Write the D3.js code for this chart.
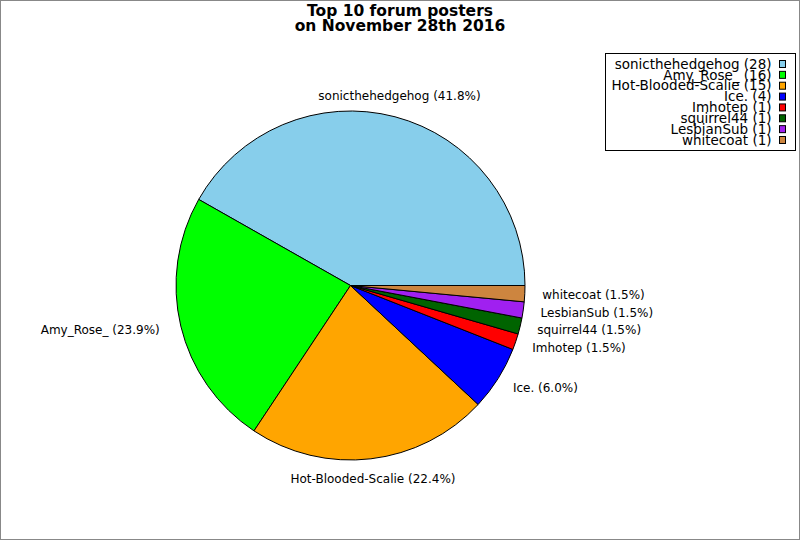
<!DOCTYPE html>
<html>
<head>
<meta charset="utf-8">
<script src="https://cdn.jsdelivr.net/npm/d3@7"></script>
<style>
  body { margin: 0; background: #fff; }
  svg { display: block; font-family: "DejaVu Sans", sans-serif; }
</style>
</head>
<body>
<div id="chart"></div>
<script>

// Chart data
const posters = ["sonicthehedgehog", "Amy_Rose_", "Hot-Blooded-Scalie", "Ice.", "Imhotep", "squirrel44", "LesbianSub", "whitecoat"];
const posts = [28, 16, 15, 4, 1, 1, 1, 1];
const sliceColors = ["#87ceeb", "#00ff00", "#ffa500", "#0000ff", "#ff0000", "#006400", "#a020f0", "#cd853f"];
const titleLines = ["Top 10 forum posters", "on November 28th 2016"];

const svgWidth = 800;
const svgHeight = 540;

const centre = { x: 350.5, y: 285.5 };
const radius = 174.5;
const labelRadius = 192;

const svg = d3.select("#chart").append("svg")
    .attr("width", svgWidth)
    .attr("height", svgHeight);

// grey frame round the picture
svg.append("rect")
    .attr("x", 0.5).attr("y", 0.5)
    .attr("width", svgWidth - 1).attr("height", svgHeight - 1)
    .attr("fill", "#fff")
    .attr("stroke", "#888");

// TITLE
svg.append("text")
    .attr("x", 400)
    .attr("text-anchor", "middle")
    .attr("font-weight", "bold")
    .attr("font-size", "15.5px")
    .selectAll("tspan")
    .data(titleLines)
    .join("tspan")
        .attr("x", 400)
        .attr("y", (d, i) => 16 + i * 14.5)
        .text(d => d);

const total = d3.sum(posts);
const table = posters.map((name, i) => ({ name: name, value: posts[i], color: sliceColors[i] }));

// counter-clockwise, starting at 3 o'clock
const pie = d3.pie()
    .sort(null)
    .value(d => d.value)
    .startAngle(Math.PI / 2)
    .endAngle(Math.PI / 2 - 2 * Math.PI);

const arc = d3.arc()
    .innerRadius(0)
    .outerRadius(radius);

const arcs = pie(table);

const gPie = svg.append("g")
    .attr("transform", `translate(${centre.x},${centre.y})`);

gPie.selectAll("path")
    .data(arcs)
    .join("path")
        .attr("d", arc)
        .attr("fill", d => d.data.color)
        .attr("stroke", "#000")
        .attr("stroke-width", 1)
        .attr("stroke-linejoin", "round");

// SLICE LABELS
function labelPos(d) {
    const a = (d.startAngle + d.endAngle) / 2;
    const sx = Math.sin(a), cy = -Math.cos(a);
    let anchor = "middle", dx = 0, dy = "0.35em";
    if (sx > 0.3) { anchor = "start"; }
    else if (sx < -0.3) { anchor = "end"; dx = -4; }
    else { dy = (cy < 0) ? "0em" : "0.6em"; }
    return { x: labelRadius * sx + dx, y: labelRadius * cy, anchor: anchor, dy: dy };
}

gPie.selectAll("text.slice-label")
    .data(arcs)
    .join("text")
        .attr("class", "slice-label")
        .attr("font-size", "12px")
        .attr("fill", "#000")
        .each(function (d) {
            const p = labelPos(d);
            d3.select(this)
                .attr("x", p.x)
                .attr("y", p.y)
                .attr("dy", p.dy)
                .attr("text-anchor", p.anchor);
        })
        .text(d => `${d.data.name} (${(d.data.value / total * 100).toFixed(1)}%)`);

// LEGEND
const legend = svg.append("g").attr("class", "legend");

legend.append("rect")
    .attr("x", 605.5).attr("y", 53.5)
    .attr("width", 190).attr("height", 97)
    .attr("fill", "#fff")
    .attr("stroke", "#000");

const rowY = d3.scalePoint()
    .domain(posters)
    .range([64, 140]);

const rows = legend.selectAll("g.row")
    .data(table)
    .join("g")
        .attr("class", "row")
        .attr("transform", d => `translate(0,${rowY(d.name)})`);

rows.append("text")
    .attr("x", 771.5)
    .attr("dy", "0.35em")
    .attr("text-anchor", "end")
    .attr("font-size", "13.5px")
    .text(d => `${d.name} (${d.value})`);

rows.append("rect")
    .attr("x", 779.5).attr("y", -3.5)
    .attr("width", 6).attr("height", 7)
    .attr("fill", d => d.color)
    .attr("stroke", "#000");

</script>
</body>
</html>
